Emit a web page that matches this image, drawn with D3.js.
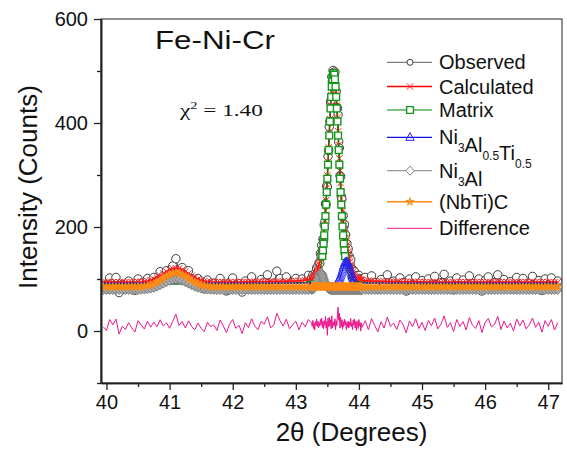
<!DOCTYPE html>
<html>
<head>
<meta charset="utf-8">
<script src="https://cdn.jsdelivr.net/npm/d3@7"></script>
<style>
  body { margin: 0; background: #fff; }
  svg { display: block; }
  text { font-family: "Liberation Sans", Arial, sans-serif; fill: #111; }
</style>
</head>
<body>
<svg id="chart" width="567" height="450"></svg>
<script>
// 2θ step scan: 0.05° steps away from the main reflection, 0.01° steps across it
const scanSegments = [[39.95, 0.05, 67], [43.26, 0.01, 79], [44.05, 0.05, 63]];
const twoTheta = scanSegments.flatMap(([start, step, n]) =>
  d3.range(n).map(i => +(start + i * step).toFixed(2)));

const observed = [
  88, 81, 102, 92, 103, 74, 89, 83, 96, 86,
  78, 100, 92, 85, 101, 91, 103, 97, 114, 106,
  116, 109, 125, 139, 117, 122, 106, 116, 101, 91,
  101, 89, 81, 98, 89, 92, 81, 101, 90, 77,
  93, 102, 85, 91, 75, 96, 87, 104, 90, 83,
  99, 94, 108, 87, 92, 115, 101, 91, 104, 86,
  94, 101, 85, 100, 92, 107, 102,
  96, 108, 93, 105, 93, 111, 106, 121, 110, 125,
  116, 132, 130, 149, 145, 165, 156, 177, 174, 204,
  210, 245, 243, 279, 277, 336, 347, 393, 403, 440,
  444, 489, 480, 501, 497, 492, 498, 463, 461, 430,
  428, 416, 364, 352, 299, 297, 259, 254, 220, 222,
  200, 205, 185, 185, 161, 168, 152, 158, 137, 143,
  129, 137, 116, 119, 102, 117, 104, 114, 95, 106,
  88, 106, 98, 90, 107, 94, 101, 84, 99,
  91, 103, 85, 106, 93, 80, 99, 87, 108, 90,
  96, 84, 102, 93, 77, 100, 89, 104, 85, 97,
  81, 100, 90, 105, 84, 93, 109, 87, 96, 79,
  102, 89, 98, 82, 106, 91, 85, 100, 77, 97,
  104, 88, 93, 108, 83, 99, 86, 95, 80, 103,
  90, 101, 84, 92, 105, 87, 97, 78, 100, 89,
  102, 82, 96
];

const calculated = [
  94, 94, 94, 94, 94, 94, 94, 94, 94, 94,
  94, 94.3, 94.6, 95.2, 96.2, 97.7, 99.8, 102.8, 106.4, 110.4,
  114.4, 117.8, 120.2, 121, 120.2, 117.8, 114.4, 110.4, 106.4, 102.8,
  99.8, 97.7, 96.2, 95.2, 94.6, 94.3, 94, 94, 94, 94,
  94, 94, 94, 94, 94, 94.4, 94.4, 94.5, 94.5, 94.6,
  94.6, 94.7, 94.7, 94.8, 94.9, 95.0, 95.1, 95.3, 95.4, 95.6,
  95.9, 96.2, 96.6, 97.1, 97.8, 98.8, 100.3,
  100.9, 101.4, 102.2, 103.2, 105.2, 107, 109.2, 112, 115.5, 120,
  124, 129.3, 134.3, 140.7, 147, 154.2, 163.3, 172.8, 184, 198,
  213, 231.2, 251.6, 274.3, 299.3, 325.5, 353, 380.6, 407.4, 432.2,
  454, 474, 488, 497, 500, 497, 488.5, 474.8, 455.2, 433.8,
  409.8, 384, 357.7, 331.9, 307.5, 284.6, 264.3, 246.2, 230.5, 217.7,
  205.6, 196.1, 187.7, 179.4, 172.5, 165.9, 158.7, 152.6, 145.6, 139.7,
  132.9, 127, 121.9, 117.3, 113.4, 109.6, 106.9, 104.8, 103.3, 101.9,
  101, 100.3, 99.8, 99.3, 99, 98.6, 98.4, 98.2, 98.0,
  97.8, 97.1, 96.6, 96.2, 95.9, 95.6, 95.4, 95.3, 95.1, 95.0,
  94.9, 94.8, 94.7, 94.7, 94.6, 94.6, 94.5, 94.5, 94.4, 94.4,
  94, 94, 94, 94, 94, 94, 94, 94, 94, 94,
  94, 94, 94, 94, 94, 94, 94, 94, 94, 94,
  94, 94, 94, 94, 94, 94, 94, 94, 94, 94,
  94, 94, 94, 94, 94, 94, 94, 94, 94, 94,
  94, 94, 94
];

const matrix = [
  90, 90, 90, 90, 90, 90, 90, 90, 90, 90,
  90, 90, 90, 90, 90, 90, 90, 90, 90, 90,
  90, 90, 90, 90, 90, 90, 90, 90, 90, 90,
  90, 90, 90, 90, 90, 90, 90, 90, 90, 90,
  90, 90, 90, 90, 90, 90.4, 90.4, 90.5, 90.5, 90.6,
  90.6, 90.7, 90.7, 90.8, 90.9, 91.0, 91.1, 91.3, 91.4, 91.6,
  91.9, 92.2, 92.6, 93.1, 93.8, 94.8, 96.1,
  96.5, 96.8, 97.2, 97.7, 98.9, 99.7, 100.6, 101.8, 103.4, 106,
  108, 111.5, 115, 120.5, 126.5, 134, 144, 155, 168, 184,
  201, 221, 243, 267, 293, 320, 348, 376, 403, 428,
  450, 470, 484, 493, 496, 493, 484, 470, 450, 428,
  403, 376, 348, 320, 293, 267, 243, 221, 201, 184,
  168, 155, 144, 134, 126.5, 120.5, 115, 111.5, 108, 106,
  103.4, 101.8, 100.6, 99.7, 98.9, 97.7, 97.2, 96.8, 96.5, 96.1,
  95.8, 95.5, 95.3, 95.0, 94.8, 94.6, 94.4, 94.2, 94.0,
  93.8, 93.1, 92.6, 92.2, 91.9, 91.6, 91.4, 91.3, 91.1, 91.0,
  90.9, 90.8, 90.7, 90.7, 90.6, 90.6, 90.5, 90.5, 90.4, 90.4,
  90, 90, 90, 90, 90, 90, 90, 90, 90, 90,
  90, 90, 90, 90, 90, 90, 90, 90, 90, 90,
  90, 90, 90, 90, 90, 90, 90, 90, 90, 90,
  90, 90, 90, 90, 90, 90, 90, 90, 90, 90,
  90, 90, 90
];

const ni3AlTi = [
  92, 92, 92, 92, 92, 92, 92, 92, 92, 92,
  92, 92, 92, 92, 92, 92, 92, 92, 92, 92,
  92, 92, 92, 92, 92, 92, 92, 92, 92, 92,
  92, 92, 92, 92, 92, 92, 92, 92, 92, 92,
  92, 92, 92, 92, 92, 92, 92, 92, 92, 92,
  92, 92, 92, 92, 92, 92, 92, 92, 92, 92,
  92, 92, 92, 92, 92, 92, 92,
  92, 92, 92, 92, 92, 92, 92, 92, 92, 92,
  92, 92, 92, 92, 92, 92, 92, 92, 92, 92,
  92, 92, 92, 92, 92, 92, 92, 92, 92, 92,
  92, 92, 92, 92, 92, 92, 92.5, 92.8, 93.2, 93.8,
  94.8, 96, 97.7, 99.9, 102.5, 105.6, 109.3, 113.2, 117.5, 121.7,
  125.6, 129.1, 131.7, 133.4, 134, 133.4, 131.7, 129.1, 125.6, 121.7,
  117.5, 113.2, 109.3, 105.6, 102.5, 99.9, 97.7, 96, 94.8, 93.8,
  93.2, 92.8, 92.5, 92.3, 92.2, 92, 92, 92, 92,
  92, 92, 92, 92, 92, 92, 92, 92, 92, 92,
  92, 92, 92, 92, 92, 92, 92, 92, 92, 92,
  92, 92, 92, 92, 92, 92, 92, 92, 92, 92,
  92, 92, 92, 92, 92, 92, 92, 92, 92, 92,
  92, 92, 92, 92, 92, 92, 92, 92, 92, 92,
  92, 92, 92, 92, 92, 92, 92, 92, 92, 92,
  92, 92, 92
];

const ni3Al = [
  79, 79, 79, 79, 79, 79, 79, 79, 79, 79,
  79, 79.2, 79.5, 79.9, 80.6, 81.7, 83.3, 85.5, 88.2, 91.1,
  94.1, 96.7, 98.4, 99, 98.4, 96.7, 94.1, 91.1, 88.2, 85.5,
  83.3, 81.7, 80.6, 79.9, 79.5, 79.2, 79, 79, 79, 79,
  79, 79, 79, 79, 79, 79, 79, 79, 79, 79,
  79, 79, 79, 79, 79, 79, 79, 79, 79, 79,
  79, 79, 79, 79, 79, 79, 79.4,
  79.7, 80.1, 80.9, 81.9, 83.5, 85.5, 88.2, 91.4, 95.1, 99,
  103, 106.6, 109.5, 111.3, 112, 111.3, 109.5, 106.6, 103, 99,
  95.1, 91.4, 88.2, 85.5, 83.5, 81.9, 80.9, 80.1, 79.7, 79.4,
  79, 79, 79, 79, 79, 79, 79, 79, 79, 79,
  79, 79, 79, 79, 79, 79, 79, 79, 79, 79,
  79, 79, 79, 79, 79, 79, 79, 79, 79, 79,
  79, 79, 79, 79, 79, 79, 79, 79, 79, 79,
  79, 79, 79, 79, 79, 79, 79, 79, 79,
  79, 79, 79, 79, 79, 79, 79, 79, 79, 79,
  79, 79, 79, 79, 79, 79, 79, 79, 79, 79,
  79, 79, 79, 79, 79, 79, 79, 79, 79, 79,
  79, 79, 79, 79, 79, 79, 79, 79, 79, 79,
  79, 79, 79, 79, 79, 79, 79, 79, 79, 79,
  79, 79, 79, 79, 79, 79, 79, 79, 79, 79,
  79, 79, 79
];

const nbTiC = [
  85, 85, 85, 85, 85, 85, 85, 85, 85, 85,
  85, 85.3, 85.6, 86.2, 87.2, 88.7, 90.8, 93.8, 97.4, 101.4,
  105.4, 108.8, 111.2, 112, 111.2, 108.8, 105.4, 101.4, 97.4, 93.8,
  90.8, 88.7, 87.2, 86.2, 85.6, 85.3, 85, 85, 85, 85,
  85, 85, 85, 85, 85, 85, 85, 85, 85, 85,
  85, 85, 85, 85, 85, 85, 85, 85, 85, 85,
  85, 85, 85, 85, 85, 85, 85,
  85, 85, 85, 85, 85, 85, 85, 85, 85, 85,
  85, 85, 85, 85, 85, 85, 85, 85, 85, 85,
  85, 85, 85, 85, 85, 85, 85, 85, 85, 85,
  85, 85, 85, 85, 85, 85, 85, 85, 85, 85,
  85, 85, 85, 85, 85, 85, 85, 85, 85, 85,
  85, 85, 85, 85, 85, 85, 85, 85, 85, 85,
  85, 85, 85, 85, 85, 85, 85, 85, 85, 85,
  85, 85, 85, 85, 85, 85, 85, 85, 85,
  85, 85, 85, 85, 85, 85, 85, 85, 85, 85,
  85, 85, 85, 85, 85, 85, 85, 85, 85, 85,
  85, 85, 85, 85, 85, 85, 85, 85, 85, 85,
  85, 85, 85, 85, 85, 85, 85, 85, 85, 85,
  85, 85, 85, 85, 85, 85, 85, 85, 85, 85,
  85, 85, 85, 85, 85, 85, 85, 85, 85, 85,
  85, 85, 85
];

// residual curve is shifted up so it sits just above zero
const differenceOffset = 14;
const difference = observed.map((v, i) => v - calculated[i] + differenceOffset);

const xTicks = [40, 41, 42, 43, 44, 45, 46, 47];
const xMinorTicks = [40.5, 41.5, 42.5, 43.5, 44.5, 45.5, 46.5];
const yTicks = [0, 200, 400, 600];
const yMinorTicks = [-100, 100, 300, 500];

// ---------------------------------------------------------------
const svg = d3.select("#chart");
const plot = { left: 101, right: 562, top: 19, bottom: 383 };

const x = d3.scaleLinear().domain([39.913, 47.218]).range([plot.left, plot.right]);
const y = d3.scaleLinear().domain([-100, 600]).range([plot.bottom, plot.top]);

svg.append("clipPath").attr("id", "plot-clip")
  .append("rect")
  .attr("x", plot.left).attr("y", plot.top)
  .attr("width", plot.right - plot.left).attr("height", plot.bottom - plot.top);

function starPath(r) {
  let p = "";
  for (let k = 0; k < 10; k++) {
    const a = -Math.PI / 2 + k * Math.PI / 5;
    const rr = k % 2 ? r * 0.45 : r;
    p += (k ? "L" : "M") + (rr * Math.cos(a)).toFixed(2) + "," + (rr * Math.sin(a)).toFixed(2);
  }
  return p + "Z";
}
const markerPaths = {
  circle: d3.symbol().type(d3.symbolCircle).size(Math.PI * 4.2 * 4.2)(),
  circleSmall: d3.symbol().type(d3.symbolCircle).size(Math.PI * 3 * 3)(),
  cross: "M-3.2,-3.2L3.2,3.2M-3.2,3.2L3.2,-3.2",
  square: "M-3.4,-3.4H3.4V3.4H-3.4Z",
  triangle: "M0,-4.6L4.2,3H-4.2Z",
  diamond: "M0,-4.6L4.2,0L0,4.6L-4.2,0Z",
  star: starPath(3.6)
};

const series = [
  { name: "Observed", values: observed, line: "#333", lineWidth: 0.8,
    marker: "circle", legendMarker: "circleSmall", markerStroke: "#3a3a3a", markerFill: "#fff", markerWidth: 1,
    showMarker: () => true },
  { name: "Calculated", values: calculated, line: "#ff0000", lineWidth: 1.6,
    marker: "cross", markerStroke: "#ff2020", markerFill: "none", markerWidth: 1,
    showMarker: () => true },
  { name: "Matrix", values: matrix, line: "#008a00", lineWidth: 1.2,
    marker: "square", markerStroke: "#13961a", markerFill: "#fff", markerWidth: 1.4,
    showMarker: v => v > 140 },
  { name: "Ni3Al0.5Ti0.5", values: ni3AlTi, line: "#1010e0", lineWidth: 1.2,
    marker: "triangle", markerStroke: "#2424f0", markerFill: "none", markerWidth: 0.7,
    showMarker: v => v > 95 },
  { name: "Ni3Al", values: ni3Al, line: "#999", lineWidth: 1.2,
    marker: "diamond", markerStroke: "#7f7f7f", markerFill: "#ababab", markerWidth: 1,
    legendFill: "#fff", showMarker: () => true },
  { name: "(NbTi)C", values: nbTiC, line: "#ff8a10", lineWidth: 2.6,
    marker: "star", markerStroke: "#ff8a10", markerFill: "none", markerWidth: 1.1,
    showMarker: () => true },
  { name: "Difference", values: difference, line: "#ea168c", lineWidth: 1,
    marker: null, showMarker: () => false }
];

const lineGen = d3.line().x(d => x(d[0])).y(d => y(d[1]));
const data = svg.append("g").attr("clip-path", "url(#plot-clip)");

series.forEach(s => {
  const pts = twoTheta.map((t, i) => [t, s.values[i]]);
  const g = data.append("g");
  g.append("path").attr("d", lineGen(pts))
    .attr("fill", "none").attr("stroke", s.line).attr("stroke-width", s.lineWidth)
    .attr("stroke-linejoin", "round");
  if (s.marker) {
    g.selectAll("path.m").data(pts.filter(p => s.showMarker(p[1])))
      .join("path").attr("class", "m")
      .attr("d", markerPaths[s.marker])
      .attr("transform", p => `translate(${x(p[0])},${y(p[1])})`)
      .attr("fill", s.markerFill).attr("stroke", s.markerStroke)
      .attr("stroke-width", s.markerWidth);
  }
});

// frame
svg.append("rect")
  .attr("x", plot.left).attr("y", plot.top)
  .attr("width", plot.right - plot.left).attr("height", plot.bottom - plot.top)
  .attr("fill", "none").attr("stroke", "#444").attr("stroke-width", 1.2);

// axes
const axisStyle = g => {
  g.selectAll("path.domain").attr("stroke", "#222").attr("stroke-width", 1.6);
  g.selectAll(".tick line").attr("stroke", "#222").attr("stroke-width", 1.3);
  g.selectAll(".tick text").attr("fill", "#111")
    .style("font-family", '"Liberation Sans", Arial, sans-serif').style("font-size", "20px");
};

svg.append("g").attr("transform", `translate(0,${plot.bottom})`)
  .call(d3.axisBottom(x).tickValues(xMinorTicks).tickSize(4).tickSizeOuter(0).tickFormat(""))
  .call(axisStyle);
svg.append("g").attr("transform", `translate(0,${plot.bottom})`)
  .call(d3.axisBottom(x).tickValues(xTicks).tickSize(7).tickSizeOuter(0).tickPadding(5).tickFormat(d3.format("d")))
  .call(axisStyle);
svg.append("g").attr("transform", `translate(${plot.left},0)`)
  .call(d3.axisLeft(y).tickValues(yMinorTicks).tickSize(4).tickSizeOuter(0).tickFormat(""))
  .call(axisStyle);
svg.append("g").attr("transform", `translate(${plot.left},0)`)
  .call(d3.axisLeft(y).tickValues(yTicks).tickSize(7).tickSizeOuter(0).tickPadding(6).tickFormat(d3.format("d")))
  .call(axisStyle);

// axis titles
svg.append("text")
  .attr("x", (plot.left + plot.right) / 2 + 20).attr("y", 441)
  .attr("text-anchor", "middle").style("font-size", "26px")
  .text("2θ (Degrees)");
svg.append("text")
  .attr("transform", "translate(37,187) rotate(-90)")
  .attr("text-anchor", "middle").style("font-size", "26px")
  .text("Intensity (Counts)");

// annotations
svg.append("text").attr("x", 155).attr("y", 49)
  .style("font-size", "25px").attr("textLength", 120).attr("lengthAdjust", "spacingAndGlyphs")
  .text("Fe-Ni-Cr");
const chi = svg.append("text").attr("transform", "translate(180,116) scale(1.45,1)")
  .style("font-family", '"Liberation Serif", "Times New Roman", serif').style("font-size", "16px");
chi.append("tspan").text("χ");
chi.append("tspan").attr("dy", -7).style("font-size", "10px").text("2");
chi.append("tspan").attr("dy", 7).text(" = 1.40");

// legend
const legendRows = [62.3, 86.5, 110, 137.3, 170.7, 201.7, 228.3];
const legend = svg.append("g");
series.forEach((s, i) => {
  const cy = legendRows[i];
  const row = legend.append("g");
  row.append("line").attr("x1", 387).attr("x2", 432).attr("y1", cy).attr("y2", cy)
    .attr("stroke", s.line).attr("stroke-width", Math.min(s.lineWidth, 1.4));
  if (s.marker) {
    row.append("path").attr("d", markerPaths[s.legendMarker || s.marker])
      .attr("transform", `translate(410,${cy})`)
      .attr("fill", s.legendFill || (s.markerFill === "none" ? "none" : "#fff"))
      .attr("stroke", s.markerStroke).attr("stroke-width", Math.max(s.markerWidth, 1));
  }
  const t = row.append("text").attr("x", 439).attr("y", cy + 7).style("font-size", "20px");
  const parts = s.name.match(/[A-Za-z()]+|[0-9.]+/g);
  if (/\d/.test(s.name) && s.name !== "(NbTi)C") {
    // chemical formula with subscripts
    parts.forEach(p => {
      if (/^[0-9.]+$/.test(p)) {
        t.append("tspan").attr("dy", 8).style("font-size", "12px").text(p);
        t.append("tspan").attr("dy", -8).text("");
      } else {
        t.append("tspan").text(p);
      }
    });
  } else {
    t.text(s.name);
  }
});
</script>
</body>
</html>
